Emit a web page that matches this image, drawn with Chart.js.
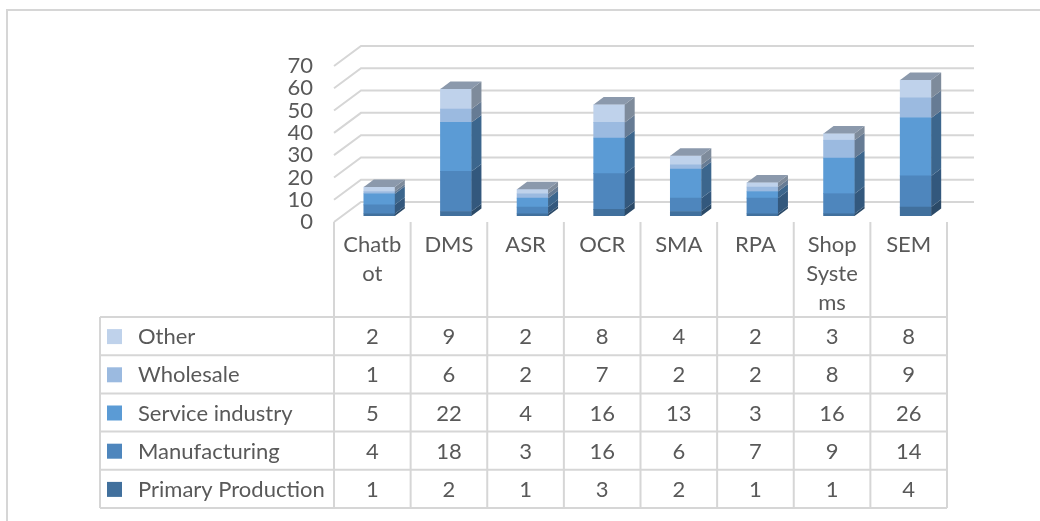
<!DOCTYPE html>
<html>
<head>
<meta charset="utf-8">
<script src="https://cdn.jsdelivr.net/npm/chart.js@4"></script>
<style>
  body { margin: 0; background: #fff; }
  canvas { display: block; }
</style>
</head>
<body>
<canvas id="chart" width="1040" height="521"></canvas>
<script>
const categories = [['Chatb', 'ot'], ['DMS'], ['ASR'], ['OCR'], ['SMA'], ['RPA'], ['Shop', 'Syste', 'ms'], ['SEM']];
const primaryProduction = [1, 2, 1, 3, 2, 1, 1, 4];
const manufacturing = [4, 18, 3, 16, 6, 7, 9, 14];
const serviceIndustry = [5, 22, 4, 16, 13, 3, 16, 26];
const wholesale = [1, 6, 2, 7, 2, 2, 8, 9];
const other = [2, 9, 2, 8, 4, 2, 3, 8];
const yTicks = [0, 10, 20, 30, 40, 50, 60, 70];

const FONT = 'Lato, "Open Sans", sans-serif';
const FONT_SIZE = 22;
const TEXT = '#595959';
const LINE = '#d6d6d6';

// offsets from the plane of the bar fronts
const FRONT = { dx: -7, dy: 6 };    // front edge of the floor
const BACK = { dx: 20, dy: -14 };   // back wall
const DEPTH = { dx: 10, dy: -7.5 }; // bar depth

function shade(hex, f) {
    const n = parseInt(hex.slice(1), 16);
    const r = Math.round(((n >> 16) & 255) * f);
    const g = Math.round(((n >> 8) & 255) * f);
    const b = Math.round((n & 255) * f);
    return `rgb(${r},${g},${b})`;
}

const datasets = [
    { label: 'Primary Production', data: primaryProduction, backgroundColor: '#41709d' },
    { label: 'Manufacturing', data: manufacturing, backgroundColor: '#4e86bd' },
    { label: 'Service industry', data: serviceIndustry, backgroundColor: '#5b9bd5' },
    { label: 'Wholesale', data: wholesale, backgroundColor: '#9bbae0' },
    { label: 'Other', data: other, backgroundColor: '#bfd2eb' }
];

// back wall + side wall gridlines
const walls = {
    id: 'walls',
    beforeDatasetsDraw(chart) {
        const { ctx, chartArea: a, scales: { y } } = chart;
        const frontX = a.left + FRONT.dx;
        const backX = a.left + BACK.dx;
        const backR = a.right + BACK.dx;
        ctx.save();
        ctx.strokeStyle = LINE;
        ctx.lineWidth = 2;
        yTicks.forEach(v => {
            const py = y.getPixelForValue(v);
            ctx.beginPath();
            ctx.moveTo(frontX, py + FRONT.dy);
            ctx.lineTo(backX, py + BACK.dy);
            ctx.lineTo(backR, py + BACK.dy);
            ctx.stroke();
        });
        ctx.restore();
    }
};

// side and top faces of the stacked columns
const bars3d = {
    id: 'bars3d',
    afterDatasetsDraw(chart) {
        const { ctx } = chart;
        const n = chart.data.labels.length;
        ctx.save();
        for (let i = 0; i < n; i++) {
            let top = null;
            chart.data.datasets.forEach((ds, d) => {
                const bar = chart.getDatasetMeta(d).data[i];
                if (!ds.data[i]) return;
                const r = bar.x + bar.width / 2;
                ctx.fillStyle = shade(ds.backgroundColor, 0.66);
                ctx.beginPath();
                ctx.moveTo(r, bar.y);
                ctx.lineTo(r + DEPTH.dx, bar.y + DEPTH.dy);
                ctx.lineTo(r + DEPTH.dx, bar.base + DEPTH.dy);
                ctx.lineTo(r, bar.base);
                ctx.closePath();
                ctx.fill();
                top = { bar, color: ds.backgroundColor };
            });
            if (top) {
                const { bar, color } = top;
                const l = bar.x - bar.width / 2, r = bar.x + bar.width / 2;
                ctx.fillStyle = shade(color, 0.73);
                ctx.beginPath();
                ctx.moveTo(l, bar.y);
                ctx.lineTo(l + DEPTH.dx, bar.y + DEPTH.dy);
                ctx.lineTo(r + DEPTH.dx, bar.y + DEPTH.dy);
                ctx.lineTo(r, bar.y);
                ctx.closePath();
                ctx.fill();
            }
        }
        ctx.restore();
    }
};

// data table with legend keys under the plot
const dataTable = {
    id: 'dataTable',
    afterDraw(chart) {
        const { ctx, scales: { x, y } } = chart;
        const step = x.getPixelForValue(1) - x.getPixelForValue(0);
        const cols = chart.data.labels.map((_, i) => x.getPixelForValue(i) + FRONT.dx);
        const gridL = cols[0] - step / 2;
        const gridR = cols[cols.length - 1] + step / 2;
        const tableL = 100;
        const headTop = y.getPixelForValue(0) + FRONT.dy;
        const headBottom = 317;
        const rowH = 38.2;
        const rows = chart.data.datasets.slice().reverse();
        const tableBottom = headBottom + rows.length * rowH;

        ctx.save();
        ctx.strokeStyle = LINE;
        ctx.lineWidth = 2;
        ctx.beginPath();
        // column rules
        for (let i = 0; i <= cols.length; i++) {
            const px = gridL + i * step;
            ctx.moveTo(px, headTop);
            ctx.lineTo(px, tableBottom);
        }
        ctx.moveTo(tableL, headBottom);
        ctx.lineTo(tableL, tableBottom);
        // row rules
        for (let r = 0; r <= rows.length; r++) {
            const py = headBottom + r * rowH;
            ctx.moveTo(tableL, py);
            ctx.lineTo(gridR, py);
        }
        ctx.stroke();

        ctx.fillStyle = TEXT;
        ctx.font = `${FONT_SIZE}px ${FONT}`;
        ctx.textBaseline = 'middle';
        ctx.textAlign = 'center';
        chart.data.labels.forEach((lines, i) => {
            lines.forEach((t, k) => ctx.fillText(t, cols[i], headTop + 23 + k * 29));
        });

        rows.forEach((ds, r) => {
            const cy = headBottom + r * rowH + rowH / 2;
            ctx.fillStyle = ds.backgroundColor;
            ctx.fillRect(107, cy - 7, 15, 15);
            ctx.fillStyle = TEXT;
            ctx.textAlign = 'left';
            ctx.fillText(ds.label, 138, cy + 1);
            ctx.textAlign = 'center';
            ds.data.forEach((v, i) => ctx.fillText(String(v), cols[i], cy + 1));
        });

        // chart frame
        ctx.beginPath();
        ctx.moveTo(7, 521);
        ctx.lineTo(7, 10);
        ctx.lineTo(1040, 10);
        ctx.stroke();
        ctx.restore();
    }
};

new Chart(document.getElementById('chart'), {
    type: 'bar',
    data: { labels: categories, datasets },
    options: {
        responsive: false,
        animation: false,
        layout: { padding: { left: 0, top: 60, right: 86, bottom: 305 } },
        datasets: { bar: { barThickness: 31, borderWidth: 0 } },
        plugins: { legend: { display: false }, tooltip: { enabled: false } },
        scales: {
            x: { stacked: true, display: false },
            y: {
                stacked: true,
                min: 0,
                max: 70,
                afterFit: s => { s.width = 341; },
                afterBuildTicks: s => { s.ticks = yTicks.map(value => ({ value })); },
                grid: { display: false, drawTicks: false },
                border: { display: false },
                ticks: {
                    autoSkip: false,
                    padding: 28,
                    labelOffset: 6,
                    color: TEXT,
                    font: { family: FONT, size: FONT_SIZE }
                }
            }
        }
    },
    plugins: [walls, bars3d, dataTable]
});
</script>
</body>
</html>
